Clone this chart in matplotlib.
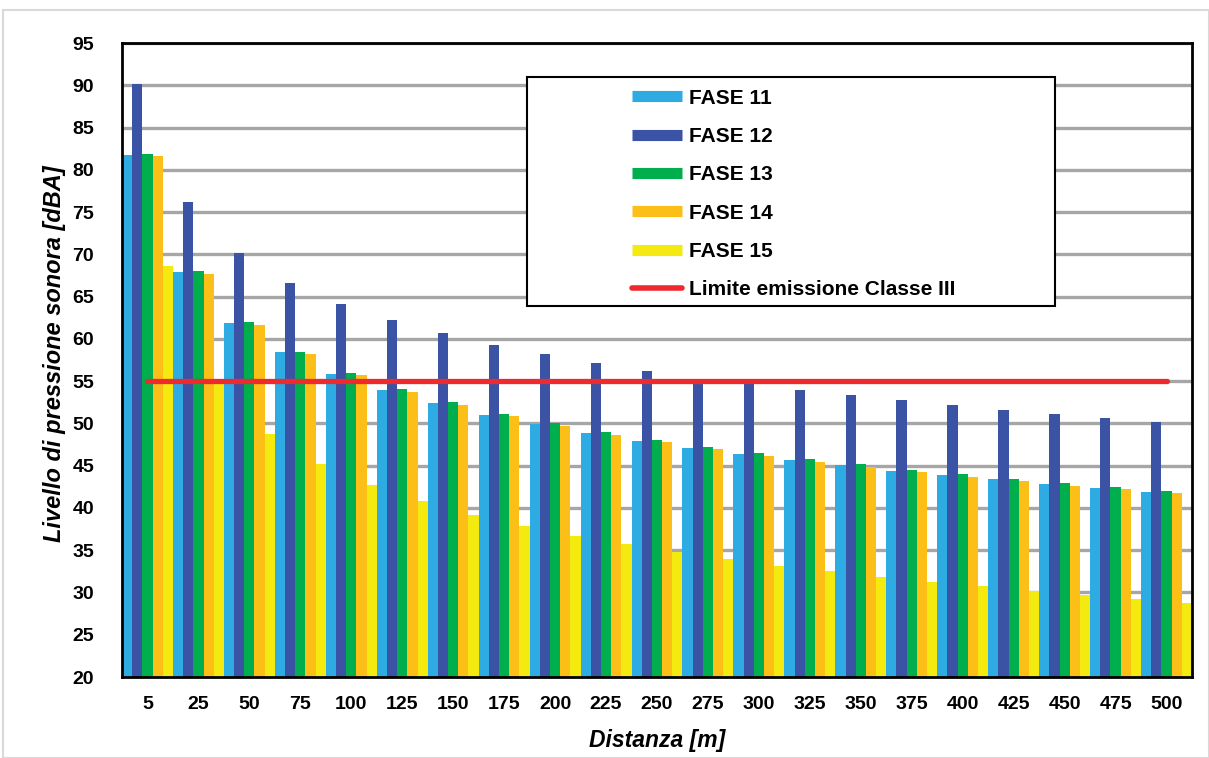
import matplotlib
matplotlib.use("Agg")
import matplotlib.pyplot as plt
import numpy as np
from matplotlib.lines import Line2D
from matplotlib.patches import Rectangle

plt.rcParams['font.family'] = ['Liberation Sans', 'DejaVu Sans']

distances = ["5", "25", "50", "75", "100", "125", "150", "175", "200", "225", "250",
             "275", "300", "325", "350", "375", "400", "425", "450", "475", "500"]

fase11 = [81.75, 67.9, 61.9, 58.45, 55.85, 53.95, 52.4, 51.0, 49.9, 48.9, 47.9,
          47.1, 46.4, 45.7, 45.1, 44.4, 43.9, 43.4, 42.8, 42.35, 41.9]
fase12 = [90.15, 76.2, 70.2, 66.6, 64.1, 62.2, 60.7, 59.3, 58.2, 57.15, 56.2,
          55.0, 54.65, 53.95, 53.4, 52.8, 52.2, 51.6, 51.1, 50.6, 50.2]
fase13 = [81.9, 68.0, 62.0, 58.45, 55.95, 54.05, 52.5, 51.1, 50.05, 49.0, 48.0,
          47.2, 46.5, 45.8, 45.2, 44.5, 44.0, 43.4, 42.95, 42.5, 42.0]
fase14 = [81.6, 67.7, 61.6, 58.2, 55.7, 53.7, 52.2, 50.9, 49.7, 48.6, 47.8,
          47.0, 46.15, 45.4, 44.85, 44.25, 43.7, 43.2, 42.6, 42.2, 41.8]
fase15 = [68.6, 55.0, 48.75, 45.2, 42.7, 40.8, 39.2, 37.9, 36.7, 35.7, 34.8,
          33.95, 33.1, 32.5, 31.8, 31.2, 30.8, 30.2, 29.7, 29.2, 28.75]
limite = 55

series_names = ["FASE 11", "FASE 12", "FASE 13", "FASE 14", "FASE 15"]
series_values = [fase11, fase12, fase13, fase14, fase15]
colors = ["#2DABE2", "#3A53A4", "#00AE4D", "#FCBF17", "#F5EA10"]
limit_label = "Limite emissione Classe III"
limit_color = "#EE2A2F"

W, H = 1209, 758
fig = plt.figure(figsize=(W / 100, H / 100), dpi=100)
ax = fig.add_axes([122 / W, 1 - 677 / H, (1192 - 122) / W, (677 - 43) / H])

x = np.arange(len(distances))
bw = 0.2
for i, (vals, c) in enumerate(zip(series_values, colors)):
    ax.bar(x - 0.5 + i * bw, np.array(vals) - 20, bottom=20, width=bw, align='edge',
           color=c, linewidth=0, zorder=2)

ax.plot([x[0], x[-1]], [limite, limite], color=limit_color, linewidth=3.8,
        solid_capstyle='round', zorder=3)

ax.set_xlim(-0.5, len(distances) - 0.5)
ax.set_ylim(20, 95)
ax.set_yticks(np.arange(20, 96, 5))
ax.set_xticks(x)
ax.set_xticklabels(distances)
ax.yaxis.grid(True, color="#A6A6A6", linewidth=2.4, zorder=0)
ax.set_axisbelow(True)
ax.tick_params(axis='both', length=0, labelsize=14)
ax.tick_params(axis='y', pad=20)
ax.tick_params(axis='x', pad=14)
for lab in ax.get_xticklabels() + ax.get_yticklabels():
    lab.set_fontweight('bold')
for s in ax.spines.values():
    s.set_linewidth(2.0)
    s.set_color('black')

ax.set_xlabel("Distanza [m]", fontsize=16.5, fontweight='bold', fontstyle='italic', labelpad=11)
ax.set_ylabel("Livello di pressione sonora [dBA]", fontsize=17, fontweight='bold',
              fontstyle='italic')
ax.yaxis.set_label_coords((66 - 122) / (1192 - 122), (677 - 354) / (677 - 43))

# legend frame
lx0 = (527 - 122) / (1192 - 122)
ly0 = (677 - 306) / (677 - 43)
lw = (1055 - 527) / (1192 - 122)
lh = (306 - 77) / (677 - 43)
ax.add_patch(Rectangle((lx0, ly0), lw, lh, transform=ax.transAxes, facecolor='white',
                       edgecolor='black', linewidth=1.5, zorder=5))

handles = [Line2D([0], [0], color=c, linewidth=8, solid_capstyle='butt') for c in colors]
handles.append(Line2D([0], [0], color=limit_color, linewidth=4, solid_capstyle='round'))
labels = series_names + [limit_label]
leg = ax.legend(handles, labels, loc='upper left',
                bbox_to_anchor=((617 - 122) / (1192 - 122), (677 - 74) / (677 - 43)),
                frameon=False, prop={'weight': 'bold', 'size': 15},
                handlelength=2.4, handletextpad=0.34, labelspacing=0.93,
                borderpad=0.2)
leg.set_zorder(6)

fig.add_artist(Rectangle((3 / W, 0), (W - 3) / W, 1 - 10 / H, transform=fig.transFigure,
                         facecolor='none', edgecolor='#D9D9D9', linewidth=1.5))

fig.savefig("out.png", dpi=100, facecolor='white')
